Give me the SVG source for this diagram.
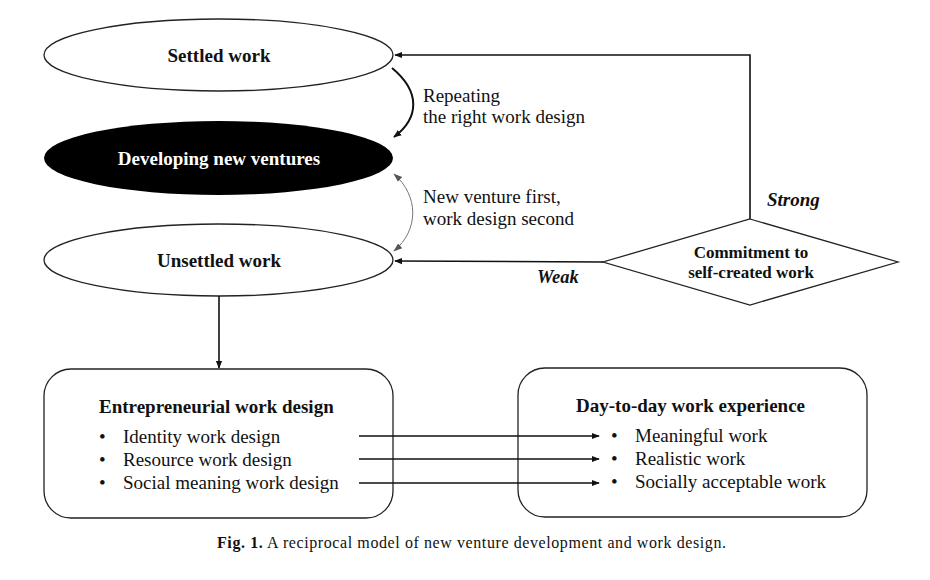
<svg xmlns="http://www.w3.org/2000/svg" width="930" height="580" viewBox="0 0 930 580">
<defs>
<style>
.shape{fill:#fff;stroke:#222;stroke-width:1.3}
.lbl{font-family:"Liberation Serif","Times New Roman",serif;font-size:19px;fill:#111}
.b{font-weight:bold}
.bi{font-weight:bold;font-style:italic}
.mid{text-anchor:middle}
.conn{fill:none;stroke:#111;stroke-width:1.6}
</style>
<marker id="ah" viewBox="0 0 10 10" refX="9" refY="5" markerWidth="8" markerHeight="8" markerUnits="userSpaceOnUse" orient="auto">
<path d="M0,1 L10,5 L0,9 Z" fill="#111"/>
</marker>
<marker id="ahs" viewBox="0 0 10 10" refX="9" refY="5" markerWidth="9" markerHeight="9" markerUnits="userSpaceOnUse" orient="auto-start-reverse">
<path d="M0,1.5 L10,5 L0,8.5 Z" fill="#555"/>
</marker>
</defs>
<rect width="930" height="580" fill="#fff"/>

<g id="settled">
<ellipse class="shape" cx="218.5" cy="55" rx="174.5" ry="36"/>
<text class="lbl b mid" x="219" y="62">Settled work</text>
</g>
<g id="developing">
<ellipse cx="218.5" cy="158" rx="174.5" ry="37" fill="#000"/>
<text class="lbl b mid" x="219" y="165" fill="#fff" style="fill:#fff">Developing new ventures</text>
</g>
<g id="unsettled">
<ellipse class="shape" cx="218.5" cy="260" rx="174.5" ry="36"/>
<text class="lbl b mid" x="219" y="267">Unsettled work</text>
</g>
<g id="commitment">
<polygon class="shape" points="750,219 898,262 750,305 603,262"/>
<text class="lbl b mid" x="751" y="258" style="font-size:17px">Commitment to</text>
<text class="lbl b mid" x="751" y="278" style="font-size:17px">self-created work</text>
</g>
<g id="entrepreneurial">
<rect class="shape" x="44" y="369" width="349" height="149" rx="27" ry="27"/>
<text class="lbl b" x="99" y="413">Entrepreneurial work design</text>
<text class="lbl" x="99" y="443">•</text>
<text class="lbl" x="123" y="443">Identity work design</text>
<text class="lbl" x="99" y="466">•</text>
<text class="lbl" x="123" y="466">Resource work design</text>
<text class="lbl" x="99" y="489">•</text>
<text class="lbl" x="123" y="489">Social meaning work design</text>
</g>
<g id="daytoday">
<rect class="shape" x="518" y="368" width="349" height="149" rx="27" ry="27"/>
<text class="lbl b" x="576" y="412">Day-to-day work experience</text>
<text class="lbl" x="611" y="442">•</text>
<text class="lbl" x="635" y="442">Meaningful work</text>
<text class="lbl" x="611" y="465">•</text>
<text class="lbl" x="635" y="465">Realistic work</text>
<text class="lbl" x="611" y="488">•</text>
<text class="lbl" x="635" y="488">Socially acceptable work</text>
</g>

<g id="connectors">
<path class="conn" d="M750,219 V55 H395" marker-end="url(#ah)"/>
<path class="conn" d="M603,262 L395,261" marker-end="url(#ah)"/>
<path class="conn" d="M219,296 V368" marker-end="url(#ah)"/>
<path class="conn" d="M359,436 H599" marker-end="url(#ah)"/>
<path class="conn" d="M359,459 H599" marker-end="url(#ah)"/>
<path class="conn" d="M359,483 H599" marker-end="url(#ah)"/>
<path class="conn" style="stroke-width:2" d="M392,68 C421,92 419,118 394,137" marker-end="url(#ah)"/>
<path fill="none" stroke="#666" stroke-width="0.9" d="M394,174 C419,196 419,230 394,251" marker-start="url(#ahs)" marker-end="url(#ahs)"/>
<text class="lbl" x="423" y="102">Repeating</text>
<text class="lbl" x="423" y="123">the right work design</text>
<text class="lbl" x="423" y="203">New venture first,</text>
<text class="lbl" x="423" y="225">work design second</text>
<text class="lbl bi" x="767" y="206">Strong</text>
<text class="lbl bi" x="537" y="283" style="font-size:18.5px">Weak</text>
</g>

<text class="lbl" x="217" y="548" style="font-size:16px" textLength="509" lengthAdjust="spacing"><tspan class="b">Fig. 1.</tspan> A reciprocal model of new venture development and work design.</text>
</svg>
